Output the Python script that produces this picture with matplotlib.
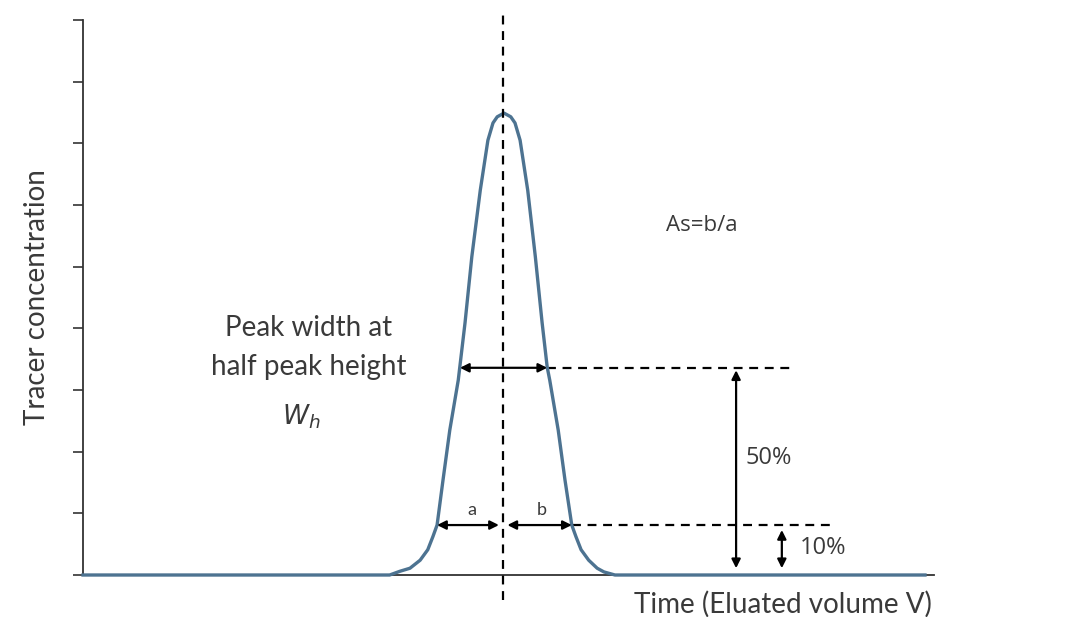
import matplotlib
matplotlib.use("Agg")
import matplotlib.pyplot as plt

# peak curve, points (time, concentration)
peak_x = [0, 36.2, 37.4, 38.6, 39.8, 40.7, 41.3, 41.8, 42.5, 43.3, 44.3, 45.1, 45.9, 46.9, 47.5, 47.8,
          48.4, 48.9, 49.7, 50.5, 51.0, 51.6, 51.9, 52.5, 53.4, 54.2, 54.8, 55.1, 56.1, 56.9, 57.7,
          58.2, 58.8, 59.7, 60.7, 61.5, 62.8, 99.4]
peak_y = [0, 0, 0.06, 0.11, 0.24, 0.41, 0.62, 0.81, 1.54, 2.35, 3.16, 4.09, 5.16, 6.24, 6.78, 7.05,
          7.33, 7.43, 7.49, 7.43, 7.33, 7.05, 6.78, 6.24, 5.16, 4.09, 3.37, 3.16, 2.35, 1.54, 0.81,
          0.62, 0.41, 0.24, 0.11, 0.05, 0, 0]
y_ticks = [0, 1, 2, 3, 4, 5, 6, 7, 8, 9]

# annotation levels
half_y = 3.36
half_left, half_right = 44.5, 54.8
ten_y = 0.81
ten_left, ten_right = 41.8, 57.7
center_x = 49.6

fig = plt.figure(figsize=(10.8, 6.17), dpi=100)
ax = fig.add_axes([0, 0, 1, 1])
ax.set_xlim(-9.8, 117.7)
ax.set_ylim(-0.681, 9.324)

ax.spines['top'].set_visible(False)
ax.spines['right'].set_visible(False)
ax.spines['left'].set_position(('data', 0))
ax.spines['bottom'].set_position(('data', 0))
ax.spines['left'].set_bounds(0, 9)
ax.spines['bottom'].set_bounds(0, 100.5)
for s in ['left', 'bottom']:
    ax.spines[s].set_color('#333333')
    ax.spines[s].set_linewidth(1.3)
ax.set_yticks(y_ticks)
ax.set_yticklabels([])
ax.set_xticks([])
ax.tick_params(axis='y', direction='out', length=7.5, width=1.2, color='#333333')

ax.plot(peak_x, peak_y, color='#4d7391', lw=2.4, solid_joinstyle='round', zorder=3)

dash = dict(color='black', lw=1.6, ls=(0, (4, 3)))
ax.plot([center_x, center_x], [-0.41, 9.08], **dash, zorder=4)
ax.plot([half_right, 83.5], [half_y, half_y], **dash)
ax.plot([ten_right, 88.2], [ten_y, ten_y], **dash)

arr = dict(arrowstyle='<|-|>', color='black', lw=1.6, mutation_scale=13, shrinkA=0, shrinkB=0)
ax.annotate('', xy=(half_left, half_y), xytext=(half_right, half_y), arrowprops=arr)
ax.annotate('', xy=(ten_left, ten_y), xytext=(49.1, ten_y), arrowprops=arr)
ax.annotate('', xy=(50.1, ten_y), xytext=(ten_right, ten_y), arrowprops=arr)
ax.annotate('', xy=(77.1, half_y - 0.04), xytext=(77.1, 0.11), arrowprops=arr)
ax.annotate('', xy=(82.5, 0.73), xytext=(82.5, 0.11), arrowprops=arr)

txt = dict(family='Lato', color='#3a3a3a')
ax.text(-5.4, 4.5, 'Tracer concentration', rotation=90, ha='center', va='center', fontsize=20, **txt)
ax.text(100.2, -0.47, 'Time (Eluated volume V)', ha='right', va='center', fontsize=20, **txt)
ax.text(26.6, 4.0, 'Peak width at', ha='center', va='center', fontsize=20, **txt)
ax.text(26.6, 3.38, 'half peak height', ha='center', va='center', fontsize=20, **txt)
ax.text(25.8, 2.56, '$W_h$', ha='center', va='center', fontsize=19, color='#3a3a3a')
ax.text(45.9, 1.05, 'a', ha='center', va='center', fontsize=13, **txt)
ax.text(54.1, 1.05, 'b', ha='center', va='center', fontsize=13, **txt)
ax.text(78.2, 1.9, '50%', ha='left', va='center', fontsize=17, family='Open Sans', color='#3a3a3a')
ax.text(84.6, 0.44, '10%', ha='left', va='center', fontsize=17, family='Open Sans', color='#3a3a3a')
ax.text(73.0, 5.67, 'As=b/a', ha='center', va='center', fontsize=16, family='Open Sans', color='#3a3a3a')

plt.savefig('out.png', dpi=100)
